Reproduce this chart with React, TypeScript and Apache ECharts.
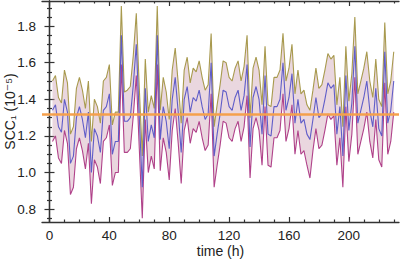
import React, { useEffect, useRef } from "react";
import * as echarts from "echarts";

const times = [
  2, 4, 6, 8, 10, 12, 14, 16, 18, 20, 22, 24, 26, 28, 30, 32, 34, 36, 38, 40,
  42, 44, 46, 48, 50, 52, 54, 56, 58, 60, 62, 64, 66, 68, 70, 72, 74, 76, 78, 80,
  82, 84, 86, 88, 90, 92, 94, 96, 98, 100, 102, 104, 106, 108, 110, 112, 114, 116, 118, 120,
  122, 124, 126, 128, 130, 132, 134, 136, 138, 140, 142, 144, 146, 148, 150, 152, 154, 156, 158, 160,
  162, 164, 166, 168, 170, 172, 174, 176, 178, 180, 182, 184, 186, 188, 190, 192, 194, 196, 198, 200,
  202, 204, 206, 208, 210, 212, 214, 216, 218, 220, 222, 224, 226, 228, 230,
];

const midValues = [
  1.34, 1.37, 1.25, 1.22, 1.40, 1.33, 1.05, 1.09, 1.30, 1.36,
  1.29, 1.19, 1.33, 1.00, 1.24, 1.20, 1.11, 1.34, 1.36, 1.43,
  1.10, 1.17, 1.17, 1.75, 1.28, 1.28, 1.30, 1.48, 1.70, 1.30,
  0.92, 1.46, 1.17, 1.26, 1.19, 1.75, 1.18, 1.36, 1.28, 1.13,
  1.40, 1.52, 1.33, 1.11, 1.40, 1.47, 1.33, 1.41, 1.39, 1.45,
  1.36, 1.29, 1.32, 1.60, 1.09, 1.21, 1.32, 1.45, 1.44, 1.36,
  1.34, 1.41, 1.45, 1.34, 1.42, 1.59, 1.14, 1.41, 1.47, 1.40,
  1.21, 1.53, 1.21, 1.20, 1.36, 1.36, 1.40, 1.60, 1.34, 1.41,
  1.54, 1.27, 1.40, 1.27, 1.29, 1.21, 1.18, 1.29, 1.41, 1.30,
  1.32, 1.40, 1.49, 1.46, 1.48, 1.21, 1.36, 1.09, 1.53, 1.23,
  1.38, 1.69, 1.27, 1.34, 1.41, 1.50, 1.34, 1.25, 1.46, 1.24,
  1.20, 1.66, 1.27, 1.34, 1.50,
];

const upperValues = [
  1.50, 1.53, 1.41, 1.38, 1.56, 1.49, 1.21, 1.25, 1.46, 1.52,
  1.45, 1.35, 1.50, 1.17, 1.40, 1.36, 1.27, 1.50, 1.52, 1.59,
  1.26, 1.33, 1.33, 1.91, 1.44, 1.45, 1.47, 1.64, 1.87, 1.46,
  1.09, 1.62, 1.33, 1.42, 1.35, 1.91, 1.34, 1.52, 1.44, 1.29,
  1.56, 1.68, 1.49, 1.27, 1.56, 1.63, 1.49, 1.57, 1.55, 1.61,
  1.52, 1.45, 1.48, 1.76, 1.25, 1.37, 1.48, 1.61, 1.60, 1.52,
  1.50, 1.57, 1.61, 1.50, 1.58, 1.75, 1.30, 1.57, 1.63, 1.56,
  1.37, 1.69, 1.37, 1.36, 1.52, 1.52, 1.56, 1.76, 1.50, 1.57,
  1.70, 1.43, 1.56, 1.43, 1.45, 1.37, 1.34, 1.45, 1.57, 1.46,
  1.48, 1.56, 1.65, 1.62, 1.64, 1.37, 1.52, 1.25, 1.69, 1.39,
  1.54, 1.85, 1.43, 1.50, 1.57, 1.66, 1.50, 1.41, 1.62, 1.40,
  1.36, 1.82, 1.43, 1.50, 1.66,
];

const lowerValues = [
  1.17, 1.20, 1.08, 1.05, 1.23, 1.16, 0.88, 0.92, 1.13, 1.19,
  1.12, 1.02, 1.16, 0.83, 1.07, 1.03, 0.94, 1.17, 1.19, 1.26,
  0.93, 1.00, 1.00, 1.59, 1.11, 1.11, 1.13, 1.31, 1.53, 1.13,
  0.75, 1.29, 1.00, 1.09, 1.02, 1.59, 1.01, 1.19, 1.11, 0.96,
  1.23, 1.35, 1.16, 0.94, 1.23, 1.30, 1.16, 1.24, 1.22, 1.28,
  1.19, 1.12, 1.15, 1.43, 0.92, 1.04, 1.15, 1.28, 1.27, 1.19,
  1.17, 1.24, 1.28, 1.17, 1.25, 1.42, 0.97, 1.24, 1.30, 1.23,
  1.04, 1.36, 1.04, 1.03, 1.19, 1.19, 1.23, 1.43, 1.17, 1.24,
  1.37, 1.10, 1.23, 1.10, 1.12, 1.04, 0.97, 1.12, 1.24, 1.13,
  1.15, 1.23, 1.32, 1.29, 1.31, 1.04, 1.19, 0.92, 1.36, 1.06,
  1.21, 1.52, 1.10, 1.17, 1.24, 1.33, 1.17, 1.08, 1.29, 1.07,
  1.03, 1.49, 1.10, 1.17, 1.33,
];

const meanLevel = 1.325;

const xMajorTicks = [0, 40, 80, 120, 160, 200];
const xMinorTicks = [10, 20, 30, 50, 60, 70, 90, 100, 110, 130, 140, 150, 170, 180, 190, 210, 220, 230];
const yMajorTicks = [0.8, 1.0, 1.2, 1.4, 1.6, 1.8];
const yMinorTicks = [0.75, 0.85, 0.9, 0.95, 1.05, 1.1, 1.15, 1.25, 1.3, 1.35, 1.45, 1.5, 1.55, 1.65, 1.7, 1.75, 1.85, 1.9];

const X_MIN = -5;
const X_MAX = 233.5;
const Y_MIN = 0.73;
const Y_MAX = 1.937;

const FONT = "'Liberation Sans', Arial, 'DejaVu Sans', sans-serif";
const AXIS_COLOR = "#333";

function xAxisDef(position: "bottom" | "top", ticks: number[], len: number, showLabels: boolean, showLine: boolean) {
  return {
    type: "value",
    position,
    min: X_MIN,
    max: X_MAX,
    axisLine: { show: showLine, lineStyle: { color: AXIS_COLOR, width: 1.3 } },
    axisTick: {
      show: true,
      inside: true,
      length: len,
      customValues: ticks,
      lineStyle: { color: AXIS_COLOR, width: 1.2 },
    },
    axisLabel: showLabels
      ? { show: true, customValues: ticks, margin: 6, fontSize: 13.5, color: "#222", fontFamily: FONT }
      : { show: false },
    splitLine: { show: false },
    ...(showLabels && position === "bottom"
      ? {
          name: "time (h)",
          nameLocation: "middle",
          nameGap: 22,
          nameMoveOverlap: false,
          nameTextStyle: { fontSize: 14, color: "#222", fontFamily: FONT },
        }
      : {}),
  };
}

function yAxisDef(position: "left" | "right", ticks: number[], len: number, showLabels: boolean, showLine: boolean) {
  return {
    type: "value",
    position,
    min: Y_MIN,
    max: Y_MAX,
    axisLine: { show: showLine, lineStyle: { color: AXIS_COLOR, width: 1.3 } },
    axisTick: {
      show: true,
      inside: true,
      length: len,
      customValues: ticks,
      lineStyle: { color: AXIS_COLOR, width: 1.2 },
    },
    axisLabel: showLabels
      ? {
          show: true,
          customValues: ticks,
          margin: 6,
          fontSize: 13.5,
          color: "#222",
          fontFamily: FONT,
          formatter: (v: number) => v.toFixed(1),
        }
      : { show: false },
    splitLine: { show: false },
    ...(showLabels && position === "left"
      ? {
          name: "SCC\u2081 (10\u207B\u2075)",
          nameLocation: "middle",
          nameGap: 25,
          nameMoveOverlap: false,
          nameTextStyle: { fontSize: 14, color: "#222", fontFamily: FONT },
        }
      : {}),
  };
}

export default function App() {
  const ref = useRef<HTMLDivElement>(null);

  useEffect(() => {
    if (!ref.current) return;
    const chart = echarts.init(ref.current, undefined, { renderer: "svg" });

    const lowerData = times.map((t, i) => [t, lowerValues[i]]);
    const upperData = times.map((t, i) => [t, upperValues[i]]);
    const midData = times.map((t, i) => [t, midValues[i]]);

    chart.setOption({
      animation: false,
      backgroundColor: "#fff",
      grid: { left: 42, right: 4, top: 1, bottom: 39, containLabel: false, outerBoundsMode: "none" },
      xAxis: [
        xAxisDef("bottom", xMajorTicks, 5, true, true),
        xAxisDef("bottom", xMinorTicks, 2.5, false, false),
        xAxisDef("top", xMajorTicks, 5, false, true),
        xAxisDef("top", xMinorTicks, 2.5, false, false),
      ],
      yAxis: [
        yAxisDef("left", yMajorTicks, 5, true, true),
        yAxisDef("left", yMinorTicks, 2.5, false, false),
        yAxisDef("right", yMajorTicks, 5, false, true),
        yAxisDef("right", yMinorTicks, 2.5, false, false),
      ],
      series: [
        {
          type: "custom",
          silent: true,
          z: 1,
          data: [0],
          renderItem: (params: any, api: any) => {
            const pts: number[][] = [];
            for (let i = 0; i < times.length; i++) pts.push(api.coord([times[i], upperValues[i]]));
            for (let i = times.length - 1; i >= 0; i--) pts.push(api.coord([times[i], lowerValues[i]]));
            return {
              type: "polygon",
              shape: { points: pts },
              style: { fill: "rgba(200, 150, 172, 0.38)", stroke: "none" },
            };
          },
        },
        {
          type: "line",
          data: upperData,
          symbol: "none",
          lineStyle: { color: "#a89a4e", width: 1.1 },
          z: 2,
        },
        {
          type: "line",
          data: lowerData,
          symbol: "none",
          lineStyle: { color: "#b0428a", width: 1.1 },
          z: 2,
        },
        {
          type: "line",
          data: midData,
          symbol: "none",
          lineStyle: { color: "#4848c4", width: 1.1, opacity: 0.85 },
          z: 3,
          markLine: {
            silent: true,
            symbol: "none",
            label: { show: false },
            lineStyle: { color: "#f5a04c", width: 2.6, type: "solid" },
            data: [{ yAxis: meanLevel }],
          },
        },
      ],
    });

    return () => chart.dispose();
  }, []);

  return (
    <div
      ref={ref}
      style={{ position: "absolute", left: 0, top: 0, width: 403, height: 261 }}
    />
  );
}
